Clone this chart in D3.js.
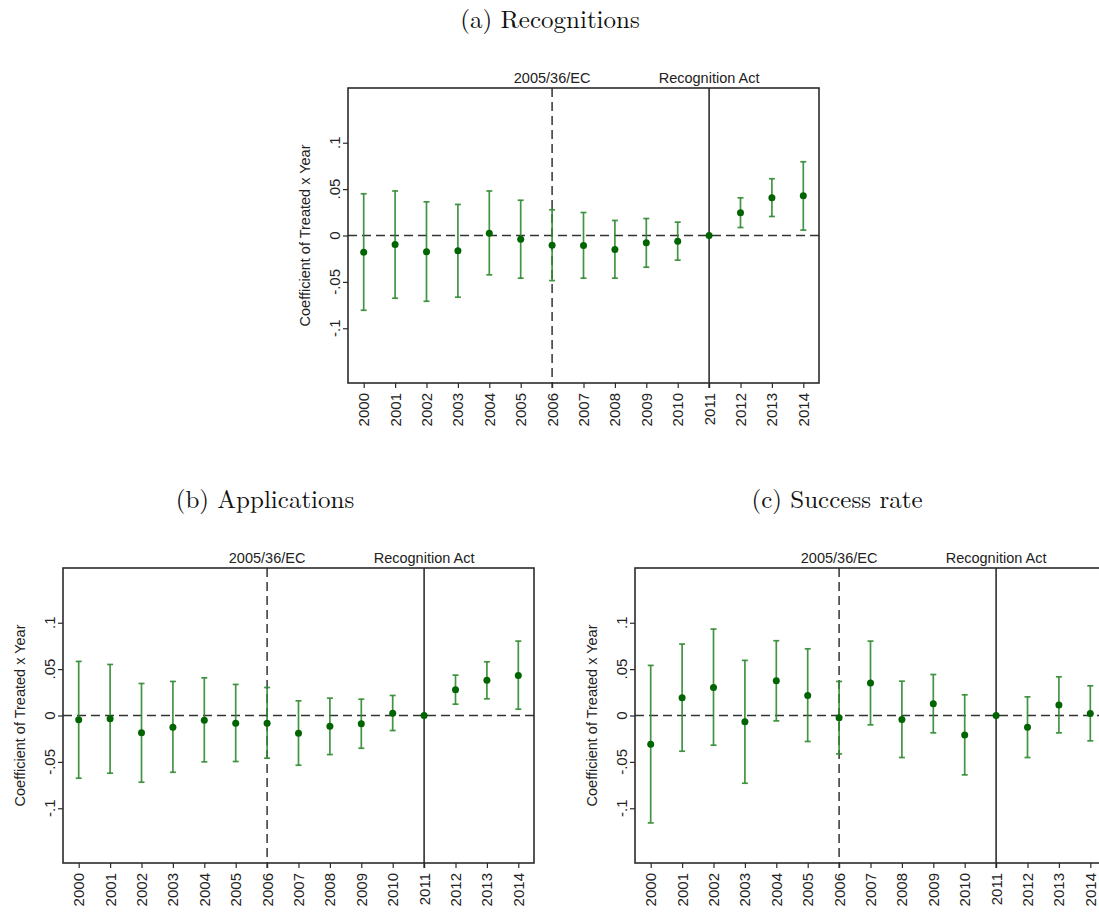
<!DOCTYPE html>
<html>
<head>
<meta charset="utf-8">
<script src="https://cdn.jsdelivr.net/npm/d3@7"></script>
<style>
  html, body { margin: 0; padding: 0; background: #fff; }
  svg { display: block; }
</style>
</head>
<body>
<svg id="fig" width="1099" height="912"></svg>
<script>
// Event-study coefficients (Treated x Year), reference year 2011 normalised to 0
const years = [2000, 2001, 2002, 2003, 2004, 2005, 2006, 2007, 2008, 2009, 2010, 2011, 2012, 2013, 2014];

const yTickValues = [0.1, 0.05, 0, -0.05, -0.1];
const yTickLabels = [".1", ".05", "0", "-.05", "-.1"];

const eventYears = [2006, 2011];
const eventLabels = ["2005/36/EC", "Recognition Act"];

// (a) Recognitions
const recogCoef  = [-0.018, -0.0097, -0.0176, -0.0165, 0.0025, -0.004, -0.0104, -0.0108, -0.0151, -0.0079, -0.0061, 0, 0.0245, 0.0406, 0.0428];
const recogLower = [-0.0806, -0.0676, -0.0709, -0.0665, -0.0424, -0.046, -0.0486, -0.046, -0.046, -0.0342, -0.0266, null, 0.0086, 0.0205, 0.0058];
const recogUpper = [0.045, 0.048, 0.0363, 0.0335, 0.048, 0.038, 0.0277, 0.0248, 0.0162, 0.0183, 0.0144, null, 0.0406, 0.0612, 0.0795];

// (b) Applications
const applCoef  = [-0.0047, -0.0036, -0.0187, -0.0126, -0.005, -0.0083, -0.0083, -0.019, -0.0115, -0.009, 0.0025, 0, 0.0277, 0.0381, 0.0432];
const applLower = [-0.0676, -0.0622, -0.0719, -0.0612, -0.05, -0.0496, -0.046, -0.0536, -0.0421, -0.0353, -0.0162, null, 0.0122, 0.018, 0.0068];
const applUpper = [0.0583, 0.055, 0.0345, 0.0367, 0.0406, 0.0335, 0.0302, 0.0158, 0.0187, 0.0176, 0.0216, null, 0.0435, 0.0579, 0.0802];

// (c) Success rate
const succCoef  = [-0.0309, 0.0191, 0.0302, -0.0068, 0.0374, 0.0216, -0.0025, 0.0349, -0.0043, 0.0126, -0.0209, 0, -0.0126, 0.0112, 0.0022];
const succLower = [-0.1158, -0.0385, -0.032, -0.073, -0.0058, -0.028, -0.0414, -0.0101, -0.0453, -0.0187, -0.064, null, -0.0453, -0.0187, -0.0273];
const succUpper = [0.054, 0.077, 0.0932, 0.0594, 0.0806, 0.0719, 0.0367, 0.0802, 0.037, 0.0442, 0.0223, null, 0.0201, 0.0417, 0.032];

const panels = [
  { title: "(a) Recognitions",  coef: recogCoef, lower: recogLower, upper: recogUpper, left: 348, top: 88 },
  { title: "(b) Applications",  coef: applCoef,  lower: applLower,  upper: applUpper,  left: 63,  top: 568 },
  { title: "(c) Success rate",  coef: succCoef,  lower: succLower,  upper: succUpper,  left: 635, top: 568 }
];

const W = 471, H = 295;
const sans = "'Liberation Sans', Arial, sans-serif";
const serif = "'Latin Modern Roman', 'Liberation Serif', 'DejaVu Serif', serif";
const frameColor = "#2b2b2b";
const barColor = "#2f8a2f";
const dotColor = "#006400";

const svg = d3.select("#fig");

function drawPanel(p) {
  const g = svg.append("g").attr("transform", `translate(${p.left},${p.top})`);

  const x = d3.scaleLinear().domain([1999.5, 2014.5]).range([0, W]);
  const y = d3.scaleLinear().domain([-0.159, 0.159]).range([H, 0]);

  // title
  g.append("text")
    .attr("x", 202).attr("y", -60)
    .attr("text-anchor", "middle")
    .style("font-family", serif).style("font-size", "25px").style("fill", "#111")
    .text(p.title);

  // y axis ticks and labels
  const yAxis = d3.axisLeft(y).tickValues(yTickValues).tickSize(5).tickFormat("");
  const ya = g.append("g").call(yAxis);
  ya.select(".domain").remove();
  ya.selectAll(".tick line").attr("stroke", frameColor).attr("stroke-width", 1.2);

  g.selectAll(".ytl").data(yTickValues).enter().append("text")
    .attr("class", "ytl")
    .attr("transform", d => `translate(-8,${y(d)}) rotate(-90)`)
    .attr("text-anchor", "middle")
    .style("font-family", sans).style("font-size", "15px").style("fill", "#222")
    .text((d, i) => yTickLabels[i]);

  // y axis title
  g.append("text")
    .attr("transform", `translate(-38,${H / 2}) rotate(-90)`)
    .attr("text-anchor", "middle")
    .style("font-family", sans).style("font-size", "14.5px").style("fill", "#222")
    .text("Coefficient of Treated x Year");

  // x axis ticks and rotated year labels
  const xAxis = d3.axisBottom(x).tickValues(years).tickSize(5).tickFormat("");
  const xa = g.append("g").attr("transform", `translate(0,${H})`).call(xAxis);
  xa.select(".domain").remove();
  xa.selectAll(".tick line").attr("stroke", frameColor).attr("stroke-width", 1.2);

  g.selectAll(".xtl").data(years).enter().append("text")
    .attr("class", "xtl")
    .attr("transform", d => `translate(${x(d) + 5.4},${H + 10}) rotate(-90)`)
    .attr("text-anchor", "end")
    .style("font-family", sans).style("font-size", "15px").style("fill", "#222")
    .text(d => String(d));

  // zero reference line
  g.append("line")
    .attr("x1", 0).attr("x2", W).attr("y1", y(0)).attr("y2", y(0))
    .attr("stroke", "#333").attr("stroke-width", 1.6).attr("stroke-dasharray", "9,5");

  // policy event lines: directive (dashed) and Recognition Act (solid)
  eventYears.forEach((ev, i) => {
    g.append("line")
      .attr("x1", x(ev)).attr("x2", x(ev)).attr("y1", 0).attr("y2", H + 5)
      .attr("stroke", i === 0 ? "#333" : "#222")
      .attr("stroke-width", 1.5)
      .attr("stroke-dasharray", i === 0 ? "9,5" : null);
    g.append("text")
      .attr("x", x(ev)).attr("y", -5)
      .attr("text-anchor", "middle")
      .style("font-family", sans).style("font-size", "14.5px").style("fill", "#222")
      .text(eventLabels[i]);
  });

  const pts = years.map((yr, i) => ({ yr, c: p.coef[i], lo: p.lower[i], hi: p.upper[i] }));
  const ci = pts.filter(d => d.lo !== null && d.hi !== null);

  // confidence intervals with caps
  const bars = g.append("g").attr("stroke", barColor).attr("stroke-width", 1.7).attr("stroke-opacity", 0.9);
  bars.selectAll(".v").data(ci).enter().append("line")
    .attr("x1", d => x(d.yr)).attr("x2", d => x(d.yr))
    .attr("y1", d => y(d.lo)).attr("y2", d => y(d.hi));
  bars.selectAll(".cu").data(ci).enter().append("line")
    .attr("x1", d => x(d.yr) - 3).attr("x2", d => x(d.yr) + 3)
    .attr("y1", d => y(d.hi)).attr("y2", d => y(d.hi));
  bars.selectAll(".cl").data(ci).enter().append("line")
    .attr("x1", d => x(d.yr) - 3).attr("x2", d => x(d.yr) + 3)
    .attr("y1", d => y(d.lo)).attr("y2", d => y(d.lo));

  // point estimates
  g.selectAll(".dot").data(pts).enter().append("circle")
    .attr("cx", d => x(d.yr)).attr("cy", d => y(d.c)).attr("r", 3.5)
    .attr("fill", dotColor);

  // plot frame
  g.append("rect")
    .attr("x", 0).attr("y", 0).attr("width", W).attr("height", H)
    .attr("fill", "none").attr("stroke", frameColor).attr("stroke-width", 1.6);
}

panels.forEach(drawPanel);
</script>
</body>
</html>
